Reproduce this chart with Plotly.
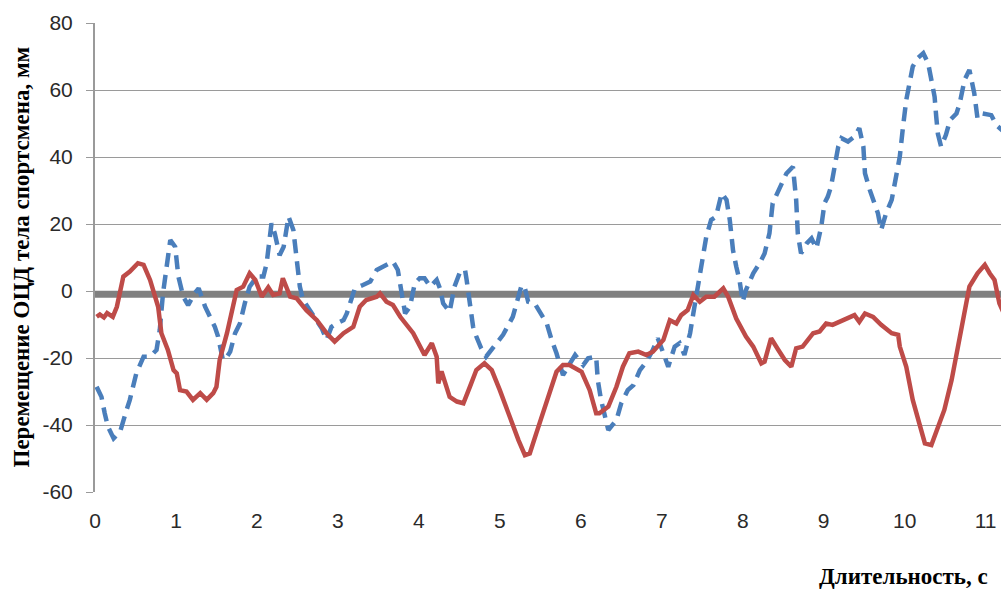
import plotly.graph_objects as go

# Red solid series (time s, displacement mm)
red_x = [0.02, 0.06, 0.11, 0.15, 0.22, 0.27, 0.35, 0.43, 0.53, 0.60, 0.68, 0.78, 0.82, 0.90, 0.97,
         1.01, 1.05, 1.13, 1.21, 1.30, 1.38, 1.46, 1.50, 1.54, 1.63, 1.71, 1.75, 1.83, 1.91, 1.98,
         2.06, 2.14, 2.20, 2.28, 2.32, 2.41, 2.49, 2.61, 2.74, 2.86, 2.96, 3.07, 3.19, 3.27, 3.35,
         3.48, 3.52, 3.60, 3.68, 3.77, 3.93, 4.07, 4.16, 4.22, 4.24, 4.28, 4.38, 4.47, 4.55, 4.63,
         4.71, 4.81, 4.90, 5.00, 5.12, 5.23, 5.31, 5.37, 5.45, 5.53, 5.62, 5.70, 5.78, 5.86, 6.01,
         6.11, 6.19, 6.23, 6.34, 6.44, 6.52, 6.60, 6.71, 6.81, 6.89, 7.02, 7.10, 7.18, 7.24, 7.32,
         7.39, 7.47, 7.55, 7.65, 7.76, 7.82, 7.92, 8.04, 8.13, 8.23, 8.27, 8.35, 8.44, 8.52, 8.60,
         8.66, 8.74, 8.87, 8.95, 9.03, 9.11, 9.24, 9.38, 9.44, 9.51, 9.61, 9.71, 9.84, 9.92, 9.94,
         10.02, 10.10, 10.19, 10.25, 10.33, 10.41, 10.49, 10.58, 10.64, 10.68, 10.74, 10.80, 10.90,
         10.99, 11.05, 11.11, 11.17, 11.25]
red_y = [-7.7, -7.0, -7.9, -6.6, -7.7, -4.7, 4.3, 5.8, 8.3, 7.8, 3.3, -4.7, -12.6, -17.6, -23.6,
         -24.6, -29.6, -30.0, -32.5, -30.5, -32.5, -30.5, -28.6, -20.6, -12.6, -4.7, 0.3, 1.3, 5.3, 3.3,
         -1.7, 1.1, -1.2, -0.7, 3.8, -1.7, -2.2, -5.7, -8.7, -12.6, -15.1, -12.6, -10.7, -4.7, -2.7,
         -1.7, -0.7, -3.2, -4.2, -7.7, -12.6, -19.1, -15.6, -19.6, -27.6, -24.0, -31.6, -33.0, -33.5, -28.6,
         -23.6, -21.6, -23.6, -29.6, -37.5, -44.5, -49.0, -48.5, -42.5, -36.5, -30.5, -24.1, -22.1, -22.1, -24.1,
         -29.6, -36.5, -36.5, -34.5, -28.6, -22.6, -18.6, -18.1, -19.1, -18.1, -14.6, -8.7, -9.7, -7.2, -5.7,
         -1.2, -3.2, -1.7, -1.7, 0.8, -1.7, -8.2, -13.6, -16.6, -21.6, -21.1, -14.1, -17.6, -20.6, -22.6,
         -17.1, -16.6, -12.6, -12.1, -9.7, -10.1, -8.7, -7.2, -9.2, -6.7, -7.7, -10.1, -12.6, -13.1, -16.6,
         -22.6, -32.5, -40.5, -45.5, -46.0, -40.5, -35.5, -26.6, -18.6, -14.6, -5.7, 1.3, 5.3,
         7.8, 5.3, 3.3, -3.7, -8.0]

# Blue dashed series
blue_x = [0.02, 0.08, 0.12, 0.16, 0.23, 0.31, 0.39, 0.43, 0.51, 0.60, 0.66, 0.70, 0.76, 0.80, 0.84,
          0.89, 0.93, 0.99, 1.03, 1.09, 1.15, 1.23, 1.28, 1.36, 1.42, 1.48, 1.52, 1.58, 1.63, 1.67,
          1.73, 1.79, 1.85, 1.91, 2.00, 2.08, 2.12, 2.16, 2.18, 2.22, 2.28, 2.33, 2.39, 2.45, 2.49,
          2.53, 2.57, 2.65, 2.74, 2.80, 2.86, 2.92, 2.98, 3.07, 3.11, 3.17, 3.21, 3.31, 3.40, 3.48,
          3.56, 3.68, 3.74, 3.79, 3.83, 3.89, 3.95, 4.01, 4.07, 4.14, 4.22, 4.26, 4.30, 4.38, 4.44,
          4.51, 4.57, 4.59, 4.63, 4.67, 4.71, 4.77, 4.83, 4.96, 5.04, 5.16, 5.23, 5.27, 5.31, 5.35,
          5.43, 5.51, 5.58, 5.64, 5.70, 5.78, 5.86, 5.93, 6.03, 6.09, 6.19, 6.21, 6.25, 6.30, 6.34,
          6.44, 6.50, 6.58, 6.65, 6.73, 6.81, 6.89, 6.95, 7.02, 7.08, 7.16, 7.22, 7.28, 7.35, 7.39,
          7.45, 7.49, 7.53, 7.55, 7.61, 7.67, 7.74, 7.80, 7.84, 7.88, 7.92, 7.96, 8.00, 8.04, 8.13,
          8.21, 8.27, 8.33, 8.37, 8.44, 8.50, 8.54, 8.62, 8.66, 8.68, 8.72, 8.79, 8.85, 8.91, 8.97,
          9.01, 9.05, 9.09, 9.14, 9.18, 9.22, 9.30, 9.38, 9.44, 9.49, 9.51, 9.57, 9.63, 9.67, 9.71,
          9.77, 9.84, 9.90, 9.94, 9.98, 10.02, 10.06, 10.10, 10.16, 10.23, 10.29, 10.33, 10.37, 10.39,
          10.41, 10.45, 10.51, 10.56, 10.64, 10.68, 10.74, 10.80, 10.86, 10.90, 10.96, 11.07, 11.13, 11.25]
blue_y = [-28.6, -31.6, -36.5, -40.5, -44.0, -42.0, -35.5, -32.5, -24.6, -19.6, -19.6, -19.1, -17.6, -11.6, -0.7,
          8.3, 15.2, 13.2, 4.3, -1.7, -4.2, -0.7, 0.8, -4.7, -7.7, -10.7, -13.6, -20.6, -19.6, -18.1,
          -12.6, -9.7, -3.7, 1.3, 4.3, 4.3, 8.3, 15.2, 20.2, 17.2, 10.7, 13.2, 22.2, 18.2, 9.3,
          1.3, -2.7, -5.7, -8.7, -11.1, -14.6, -10.7, -9.7, -8.7, -6.7, -1.7, 0.8, 1.8, 2.8, 6.3,
          7.3, 8.8, 6.3, -0.7, -6.7, -4.7, 2.3, 3.8, 3.8, 1.3, 3.3, 0.8, -3.7, -6.2, 1.3,
          5.8, 6.3, 3.3, -2.7, -10.7, -13.6, -17.1, -19.6, -15.6, -13.1, -7.7, -1.2, 1.8, 0.8, -3.2,
          -3.7, -6.7, -9.7, -14.6, -18.6, -25.1, -21.6, -19.1, -22.1, -20.1, -19.6, -26.6, -32.5, -37.5, -41.5,
          -38.5, -33.5, -29.6, -28.1, -23.6, -21.1, -17.6, -14.1, -18.6, -22.6, -16.6, -15.6, -19.1, -12.6, -6.7,
          1.3, 7.3, 13.2, 16.2, 21.2, 22.2, 29.2, 27.2, 21.2, 12.2, 7.3, 3.3, -3.2, 0.3, 5.3,
          8.3, 11.2, 17.2, 26.2, 30.1, 33.1, 35.1, 37.1, 27.2, 17.2, 11.2, 14.2, 15.7, 12.7, 19.2,
          26.2, 28.1, 31.1, 37.1, 43.1, 45.6, 44.6, 46.1, 48.6, 43.1, 35.1, 30.1, 25.7, 23.2, 18.2,
          23.2, 27.2, 34.1, 40.1, 49.1, 57.0, 62.0, 67.0, 69.5, 71.0, 68.0, 63.0, 58.0, 52.0,
          47.0, 43.1, 46.6, 51.0, 53.0, 56.0, 63.0, 66.0, 59.0, 51.5, 53.0, 52.5, 49.6, 47.0]

# Gray reference line
ref_x = [0, 11.5]
ref_y = [-1, -1]

y_ticks = [-60, -40, -20, 0, 20, 40, 60, 80]
y_tick_labels = ["-60", "-40", "-20", "0", "20", "40", "60", "80"]
x_ticks = list(range(0, 12))
x_tick_labels = [str(v) for v in x_ticks]

fig = go.Figure()
fig.add_trace(go.Scatter(x=ref_x, y=ref_y, mode="lines",
                         line=dict(color="#808080", width=7), showlegend=False, hoverinfo="skip"))
fig.add_trace(go.Scatter(x=blue_x, y=blue_y, mode="lines",
                         line=dict(color="#4A7EBB", width=4.5, dash="14px,8px"), showlegend=False))
fig.add_trace(go.Scatter(x=red_x, y=red_y, mode="lines",
                         line=dict(color="#BE4B48", width=4.5), showlegend=False))

W, H = 1001, 590
L, R, T, B = 95, 0, 23, 98
pw, ph = W - L - R, H - T - B

def px2paper_x(px):
    return (px - L) / pw

def px2paper_y(py):
    return (H - B - py) / ph

tick_font = dict(family="Liberation Sans", size=21, color="#2a2a2a")

fig.update_layout(
    width=W, height=H,
    margin=dict(l=L, r=R, t=T, b=B),
    plot_bgcolor="white", paper_bgcolor="white",
    showlegend=False,
    font=tick_font,
    xaxis=dict(range=[0, 11.19], tickvals=x_ticks, ticktext=x_tick_labels, showgrid=False, zeroline=False,
               showline=False, ticks="outside", ticklen=10, tickcolor="rgba(0,0,0,0)",
               tickfont=tick_font),
    yaxis=dict(range=[-60, 80], tickvals=y_ticks, ticktext=y_tick_labels, showgrid=True,
               gridcolor="#9A9A9A", gridwidth=1,
               zeroline=False, showline=True, linecolor="#9A9A9A", linewidth=2,
               ticks="outside", ticklen=7, tickcolor="#9A9A9A", ticklabelstandoff=9,
               tickfont=tick_font),
    annotations=[
        dict(text="<b>Перемещение ОЦД тела спортсмена, мм</b>", xref="paper", yref="paper",
             x=px2paper_x(21), y=0.5, xanchor="center", yanchor="middle", textangle=-90,
             showarrow=False, font=dict(family="Liberation Serif", size=23, color="#000000")),
        dict(text="<b>Длительность, с</b>", xref="paper", yref="paper",
             x=px2paper_x(990), y=px2paper_y(576), xanchor="right", yanchor="middle",
             showarrow=False, font=dict(family="Liberation Serif", size=23, color="#000000")),
    ],
)

fig.write_html("out.html", config={"displayModeBar": False},
               post_script="document.body.style.margin='0';document.body.style.overflow='hidden';")
